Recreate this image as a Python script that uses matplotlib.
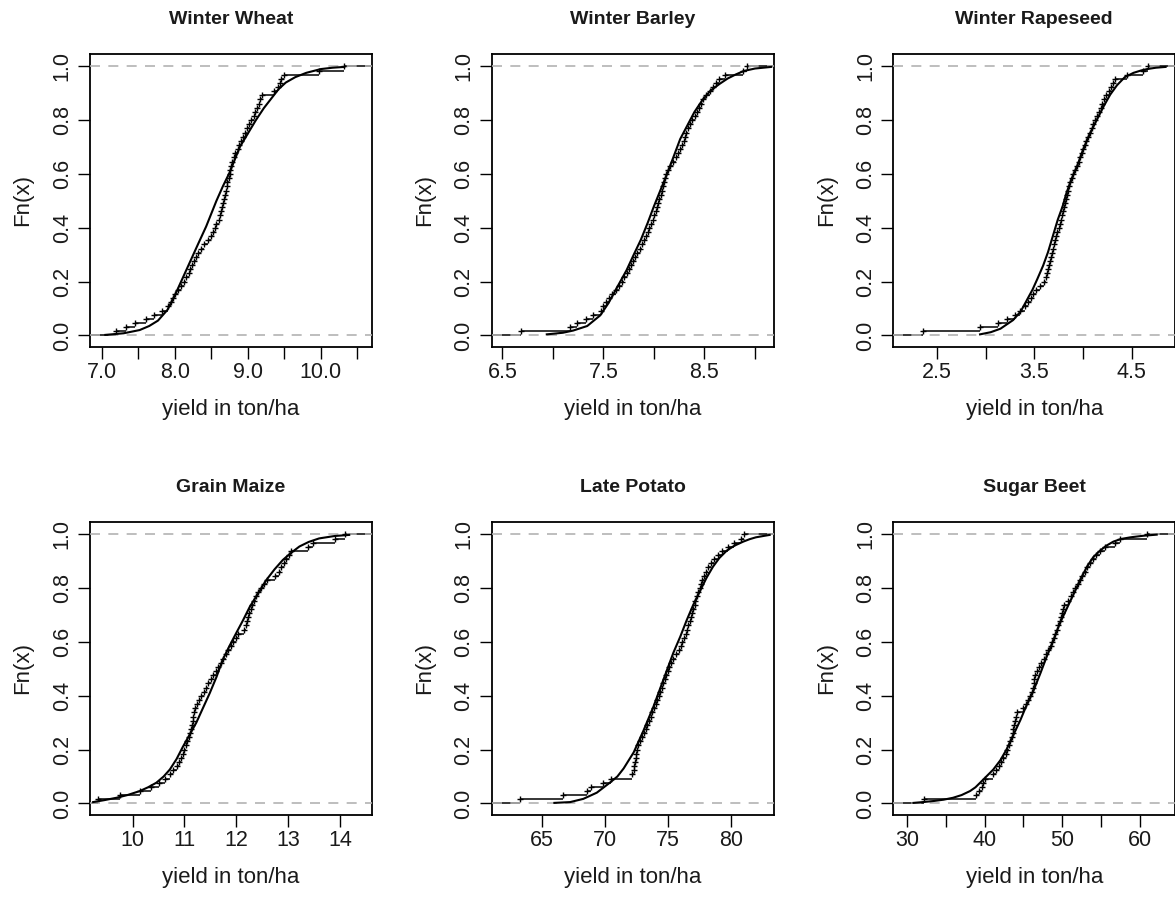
import matplotlib
matplotlib.use("Agg")
import matplotlib.pyplot as plt
import numpy as np

plt.rcParams['font.family'] = ['Liberation Sans', 'DejaVu Sans']

# ---------------- data ----------------
titles = ["Winter Wheat", "Winter Barley", "Winter Rapeseed",
          "Grain Maize", "Late Potato", "Sugar Beet"]

# sorted sample values (empirical CDF steps at i/n)
wheat = [7.20, 7.33, 7.45, 7.60, 7.71, 7.83, 7.91, 7.95, 7.98, 8.01, 8.05, 8.08, 8.12,
         8.16, 8.19, 8.21, 8.24, 8.26, 8.29, 8.32, 8.36, 8.40, 8.45, 8.49, 8.52, 8.55,
         8.57, 8.60, 8.62, 8.63, 8.64, 8.66, 8.68, 8.69, 8.70, 8.71, 8.72, 8.74, 8.75,
         8.76, 8.77, 8.79, 8.81, 8.83, 8.86, 8.88, 8.91, 8.93, 8.96, 8.99, 9.02, 9.05,
         9.08, 9.10, 9.13, 9.15, 9.17, 9.20, 9.36, 9.42, 9.44, 9.46, 9.49, 9.98, 10.32]
barley = [6.68, 7.17, 7.24, 7.33, 7.40, 7.48, 7.50, 7.53, 7.56, 7.59, 7.62, 7.65, 7.68,
          7.70, 7.73, 7.75, 7.77, 7.79, 7.81, 7.83, 7.86, 7.88, 7.90, 7.92, 7.94, 7.95,
          7.97, 7.99, 8.00, 8.02, 8.03, 8.04, 8.05, 8.07, 8.08, 8.09, 8.10, 8.11, 8.12,
          8.14, 8.16, 8.19, 8.22, 8.24, 8.26, 8.28, 8.30, 8.31, 8.32, 8.34, 8.36, 8.38,
          8.41, 8.43, 8.45, 8.47, 8.49, 8.52, 8.55, 8.58, 8.61, 8.64, 8.70, 8.88, 8.92]
rapeseed = [2.35, 2.94, 3.12, 3.22, 3.30, 3.35, 3.40, 3.43, 3.46, 3.49, 3.52, 3.56, 3.60,
            3.62, 3.63, 3.64, 3.65, 3.66, 3.67, 3.68, 3.69, 3.70, 3.71, 3.72, 3.735, 3.75,
            3.76, 3.77, 3.78, 3.79, 3.80, 3.81, 3.82, 3.83, 3.845, 3.855, 3.87, 3.89, 3.90,
            3.92, 3.94, 3.955, 3.97, 3.985, 4.00, 4.02, 4.035, 4.05, 4.07, 4.09, 4.105, 4.12,
            4.14, 4.16, 4.18, 4.20, 4.22, 4.24, 4.27, 4.29, 4.31, 4.33, 4.45, 4.62, 4.67]
maize = [9.34, 9.76, 10.14, 10.36, 10.52, 10.63, 10.72, 10.79, 10.85, 10.90, 10.94, 10.97,
         11.00, 11.03, 11.06, 11.09, 11.11, 11.13, 11.15, 11.16, 11.17, 11.19, 11.21, 11.24,
         11.29, 11.32, 11.37, 11.41, 11.46, 11.51, 11.56, 11.61, 11.65, 11.70, 11.75, 11.80,
         11.85, 11.90, 11.94, 11.99, 12.04, 12.15, 12.18, 12.20, 12.23, 12.25, 12.28, 12.30,
         12.34, 12.38, 12.43, 12.48, 12.53, 12.60, 12.74, 12.82, 12.87, 12.92, 12.97, 13.02,
         13.05, 13.38, 13.48, 13.90, 14.10]
potato = [63.3, 66.7, 68.6, 68.9, 69.9, 70.5, 72.2, 72.3, 72.35, 72.4, 72.45, 72.5, 72.6,
          72.68, 72.8, 72.94, 73.1, 73.24, 73.37, 73.5, 73.64, 73.78, 73.92, 74.04, 74.17,
          74.29, 74.41, 74.53, 74.65, 74.78, 74.9, 75.01, 75.14, 75.3, 75.45, 75.62, 75.88,
          76.03, 76.17, 76.3, 76.44, 76.52, 76.65, 76.78, 76.85, 76.94, 77.04, 77.13, 77.2,
          77.3, 77.42, 77.53, 77.64, 77.75, 77.87, 78.03, 78.21, 78.44, 78.69, 79.0, 79.31,
          79.77, 80.3, 80.8, 81.1]
beet = [32.1, 38.9, 39.3, 39.6, 39.8, 40.0, 41.0, 41.4, 41.8, 42.1, 42.4, 42.7, 42.9,
        43.1, 43.3, 43.5, 43.6, 43.7, 43.8, 43.9, 44.0, 44.1, 44.9, 45.3, 45.6, 45.9,
        46.1, 46.2, 46.3, 46.4, 46.5, 46.7, 47.0, 47.3, 47.6, 47.9, 48.2, 48.5, 48.7,
        48.9, 49.1, 49.3, 49.5, 49.7, 49.9, 50.0, 50.1, 50.2, 50.7, 51.1, 51.4, 51.7,
        52.0, 52.3, 52.6, 52.9, 53.2, 53.6, 54.0, 54.4, 54.9, 55.5, 56.8, 57.5, 61.0]

# fitted distribution curves (x, F(x))
wheat_cx = [7.05, 7.30, 7.52, 7.65, 7.77, 7.90, 8.02, 8.12, 8.22, 8.32, 8.43, 8.57, 8.66,
            8.75, 8.89, 9.00, 9.11, 9.22, 9.32, 9.42, 9.52, 9.65, 9.80, 10.0, 10.16, 10.32]
wheat_cy = [0.002, 0.008, 0.02, 0.035, 0.055, 0.095, 0.16, 0.22, 0.28, 0.34, 0.405, 0.50,
            0.555, 0.605, 0.70, 0.75, 0.80, 0.845, 0.88, 0.915, 0.94, 0.96, 0.976, 0.99,
            0.995, 0.998]
barley_cx = [6.94, 7.10, 7.20, 7.34, 7.47, 7.55, 7.63, 7.73, 7.80, 7.87, 7.94, 8.00, 8.07,
             8.13, 8.20, 8.26, 8.33, 8.40, 8.48, 8.56, 8.65, 8.73, 8.81, 8.89, 9.00, 9.16]
barley_cy = [0.004, 0.01, 0.018, 0.035, 0.075, 0.12, 0.175, 0.243, 0.30, 0.355, 0.42, 0.48,
             0.545, 0.60, 0.67, 0.73, 0.78, 0.83, 0.875, 0.91, 0.935, 0.955, 0.97, 0.983,
             0.992, 0.998]
rapeseed_cx = [2.94, 3.05, 3.15, 3.28, 3.36, 3.42, 3.48, 3.53, 3.59, 3.64, 3.69, 3.74, 3.79,
               3.83, 3.88, 3.94, 4.00, 4.07, 4.14, 4.21, 4.28, 4.35, 4.43, 4.52, 4.60, 4.66,
               4.75, 4.85]
rapeseed_cy = [0.004, 0.012, 0.025, 0.057, 0.09, 0.13, 0.17, 0.21, 0.26, 0.31, 0.37, 0.43,
               0.48, 0.53, 0.58, 0.63, 0.69, 0.75, 0.80, 0.85, 0.895, 0.93, 0.96, 0.976,
               0.985, 0.99, 0.995, 0.998]
maize_cx = [9.24, 9.45, 9.69, 9.90, 10.14, 10.30, 10.46, 10.60, 10.72, 10.85, 10.97, 11.10,
            11.23, 11.36, 11.49, 11.62, 11.74, 11.87, 12.00, 12.13, 12.26, 12.42, 12.58,
            12.74, 12.90, 13.05, 13.22, 13.40, 13.60, 13.90, 14.18]
maize_cy = [0.005, 0.012, 0.021, 0.031, 0.046, 0.06, 0.077, 0.10, 0.126, 0.165, 0.21, 0.255,
            0.30, 0.355, 0.41, 0.47, 0.534, 0.585, 0.633, 0.68, 0.73, 0.78, 0.83, 0.87,
            0.905, 0.93, 0.955, 0.972, 0.985, 0.994, 0.998]
potato_cx = [66.0, 67.25, 68.3, 69.37, 70.4, 71.0, 71.5, 72.3, 73.07, 73.87, 74.66, 75.45,
             76.0, 76.5, 77.0, 77.57, 78.1, 78.6, 79.1, 79.7, 80.3, 81.0, 81.5, 82.0, 82.6,
             83.1]
potato_cy = [0.002, 0.005, 0.017, 0.04, 0.077, 0.10, 0.13, 0.19, 0.27, 0.36, 0.46, 0.56,
             0.62, 0.68, 0.735, 0.79, 0.84, 0.88, 0.912, 0.94, 0.958, 0.973, 0.982, 0.989,
             0.994, 0.998]
beet_cx = [30.8, 32.0, 33.4, 34.7, 35.9, 37.0, 38.1, 38.8, 39.4, 40.2, 41.1, 42.0, 42.8,
           43.7, 44.6, 45.4, 46.3, 47.2, 48.0, 48.9, 49.7, 50.6, 51.5, 52.3, 53.2, 54.0,
           54.9, 55.7, 56.6, 57.6, 58.8, 60.5, 62.2]
beet_cy = [0.002, 0.005, 0.009, 0.014, 0.021, 0.031, 0.046, 0.06, 0.077, 0.10, 0.126, 0.16,
           0.20, 0.255, 0.31, 0.365, 0.42, 0.485, 0.546, 0.61, 0.67, 0.725, 0.78, 0.83,
           0.88, 0.915, 0.94, 0.958, 0.973, 0.983, 0.989, 0.995, 0.999]

# axis ticks and labels
xticks = [[7.0, 7.5, 8.0, 8.5, 9.0, 9.5, 10.0, 10.5],
          [6.5, 7.0, 7.5, 8.0, 8.5, 9.0],
          [2.5, 3.0, 3.5, 4.0, 4.5],
          [10, 11, 12, 13, 14],
          [65, 70, 75, 80],
          [30, 35, 40, 45, 50, 55, 60]]
xticklabels = [["7.0", "", "8.0", "", "9.0", "", "10.0", ""],
               ["6.5", "", "7.5", "", "8.5", ""],
               ["2.5", "", "3.5", "", "4.5"],
               ["10", "11", "12", "13", "14"],
               ["65", "70", "75", "80"],
               ["30", "", "40", "", "50", "", "60"]]
xlims = [(6.84, 10.70), (6.395, 9.185), (2.047, 4.95),
         (9.18, 14.62), (61.02, 83.42), (28.19, 64.6)]
yticks = [0.0, 0.2, 0.4, 0.6, 0.8, 1.0]
yticklabels = ["0.0", "0.2", "0.4", "0.6", "0.8", "1.0"]
xlabel = "yield in ton/ha"
ylabel = "Fn(x)"

samples = [wheat, barley, rapeseed, maize, potato, beet]
curves = [(wheat_cx, wheat_cy), (barley_cx, barley_cy), (rapeseed_cx, rapeseed_cy),
          (maize_cx, maize_cy), (potato_cx, potato_cy), (beet_cx, beet_cy)]

# ---------------- figure ----------------
W, H = 1175, 899
fig = plt.figure(figsize=(W / 100, H / 100), dpi=100)
fig.patch.set_facecolor("white")

lefts = [90, 491.7, 893.3]
tops = [54, 522]
bw, bh = 282, 293
ylim = (-0.043, 1.046)
txtcol = "#1a1a1a"

for k in range(6):
    r, c = divmod(k, 3)
    ax = fig.add_axes([lefts[c] / W, 1 - (tops[r] + bh) / H, bw / W, bh / H])
    xs = np.array(samples[k], dtype=float)
    n = len(xs)
    ps = np.arange(1, n + 1) / n
    x0, x1 = xlims[k]
    span = x1 - x0
    # horizontal steps
    left_ext = np.concatenate([[x0 - span], xs])
    right_ext = np.concatenate([xs, [x1 + span]])
    levels = np.concatenate([[0.0], ps])
    ax.hlines(levels, left_ext, right_ext, colors="black", lw=1.1, zorder=3)
    ax.plot(xs, ps, ls="none", marker="+", ms=4.5, mew=1.0, color="black", zorder=4)
    # 0/1 reference lines
    for h in (0.0, 1.0):
        ax.axhline(h, color="#b3b3b3", lw=1.2, ls=(0, (6, 5)), zorder=5)
    # fitted curve
    cx, cy = curves[k]
    ax.plot(cx, cy, color="black", lw=1.5, zorder=6)

    ax.set_xlim(x0, x1)
    ax.set_ylim(*ylim)
    ax.set_xticks(xticks[k])
    ax.set_xticklabels(xticklabels[k])
    ax.set_yticks(yticks)
    ax.set_yticklabels(yticklabels, rotation=90, va="center")
    ax.tick_params(axis="both", direction="out", length=8.5, width=1.0,
                   labelsize=15.5, colors="black", labelcolor=txtcol)
    ax.tick_params(axis="x", pad=2)
    ax.tick_params(axis="y", pad=4)
    for sp in ax.spines.values():
        sp.set_linewidth(1.3)
        sp.set_color("black")
    ax.set_xlabel(xlabel, fontsize=16, color=txtcol)
    ax.xaxis.set_label_coords(0.5, -63 / bh)
    ax.xaxis.label.set_va("center")
    ax.set_ylabel(ylabel, fontsize=16, color=txtcol)
    ax.yaxis.set_label_coords(-67 / bw, 0.5)
    ax.yaxis.label.set_va("center")
    ax.text(0.5, 1 + 35 / bh, titles[k], transform=ax.transAxes, ha="center",
            va="center", fontsize=14, fontweight="bold", color=txtcol)
    ax.set_facecolor("white")

fig.savefig("out.png", dpi=100, facecolor="white")
